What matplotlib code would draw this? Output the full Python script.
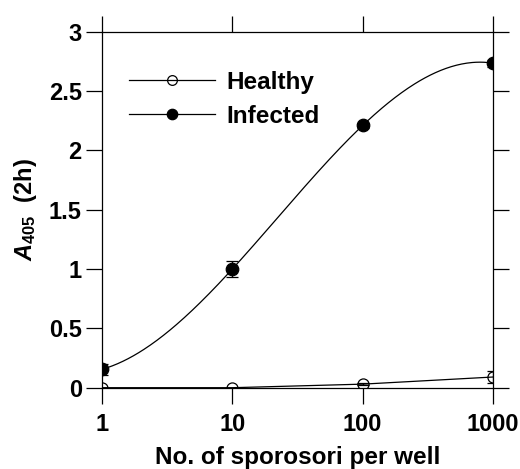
import numpy as np
import matplotlib
matplotlib.use('Agg')
import matplotlib.pyplot as plt
from matplotlib.lines import Line2D

sporosori = [1, 10, 100, 1000]
healthy = [0.0, 0.0, 0.03, 0.09]
healthy_err = [0.0, 0.0, 0.01, 0.05]
infected = [0.155, 1.0, 2.21, 2.735]
infected_err = [0.048, 0.065, 0.02, 0.03]
xticks = [1, 10, 100, 1000]
xticklabels = ['1', '10', '100', '1000']
yticks = [0, 0.5, 1, 1.5, 2, 2.5, 3]
yticklabels = ['0', '0.5', '1', '1.5', '2', '2.5', '3']

plt.rcParams['font.family'] = ['Liberation Sans', 'DejaVu Sans']
plt.rcParams['font.weight'] = 'bold'
plt.rcParams['mathtext.fontset'] = 'custom'
plt.rcParams['mathtext.rm'] = 'Liberation Sans:bold'
plt.rcParams['mathtext.bf'] = 'Liberation Sans:bold'
plt.rcParams['mathtext.it'] = 'Liberation Sans:bold:italic'

fig = plt.figure(figsize=(5.2, 4.69), dpi=100)
ax = fig.add_axes([102/520, 1-387.7/469, 391/520, 356/469])

lw = 0.9
# Healthy: straight segments
ax.plot(sporosori, healthy, color='black', lw=lw, zorder=3)
ax.errorbar(sporosori, healthy, yerr=healthy_err, fmt='o', mfc='none', mec='black',
            ms=8, mew=0.9, ecolor='black', elinewidth=lw, capsize=4, capthick=lw, zorder=4)

# Infected: smooth curve through points (log x)
lx = np.log10(sporosori)
coef = np.polyfit(lx, infected, 3)
uu = np.linspace(lx[0], lx[-1], 300)
ax.plot(10**uu, np.polyval(coef, uu), color='black', lw=lw, zorder=3)
ax.errorbar(sporosori, infected, yerr=infected_err, fmt='o', mfc='black', mec='black',
            ms=9, mew=0.9, ecolor='black', elinewidth=lw, capsize=4, capthick=lw, zorder=4)

ax.set_xscale('log')
ax.set_xlim(1, 1000)
ax.set_ylim(0, 3)
ax.set_xticks(xticks)
ax.set_xticklabels(xticklabels)
ax.set_yticks(yticks)
ax.set_yticklabels(yticklabels)
ax.minorticks_off()
ax.tick_params(axis='both', which='major', direction='out', length=11.5, width=lw,
               labelsize=17, top=True, right=True)
ax.tick_params(axis='x', pad=7)
ax.tick_params(axis='y', pad=3)
for s in ax.spines.values():
    s.set_linewidth(lw)

ax.set_xlabel('No. of sporosori per well', fontsize=17.5, fontweight='bold', labelpad=7)
ax.set_ylabel(r'$\mathit{A}_{\mathrm{405}}$  (2h)', fontsize=17, fontweight='bold', labelpad=7)

handles = [Line2D([], [], color='black', lw=lw, marker='o', mfc='none', mec='black', ms=7, mew=0.9),
           Line2D([], [], color='black', lw=lw, marker='o', mfc='black', mec='black', ms=7.5, mew=0.9)]
fig.legend(handles, ['Healthy', 'Infected'], loc='upper left',
           bbox_to_anchor=(129/520, 1-71/469), bbox_transform=fig.transFigure,
           frameon=False, fontsize=17.5, handlelength=3.54, handletextpad=0.48,
           labelspacing=0.44, borderpad=0, borderaxespad=0)

fig.savefig('out.png', dpi=100)
